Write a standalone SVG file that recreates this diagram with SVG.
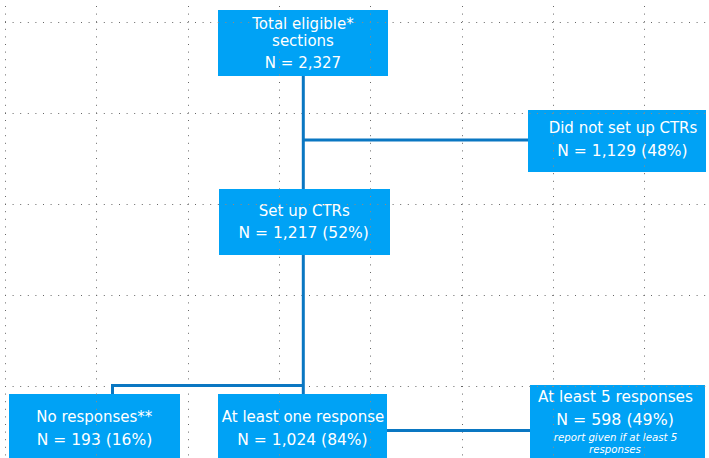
<svg xmlns="http://www.w3.org/2000/svg" width="709" height="458" viewBox="0 0 709 458">
  <style>
    .grid { stroke: #666666; stroke-width: 1; stroke-dasharray: 1 6.6; fill: none; }
    .grid-over { stroke: #d4824a; stroke-width: 1; stroke-dasharray: 1 6.6; fill: none; opacity: 0.75; }
    .box { fill: #00a2f5; }
    .lbl { font-family: "DejaVu Sans", Verdana, sans-serif; font-size: 15px; fill: #ffffff; text-anchor: middle; }
    .num { font-size: 15.5px; }
    .note { font-family: "DejaVu Sans", Verdana, sans-serif; font-size: 10.2px; font-style: italic; fill: #ffffff; text-anchor: middle; }
    .conn { stroke: #0a77c2; stroke-width: 3; fill: none; }
  </style>
  <defs>
    <!-- dotted background grid; stroke styling is inherited from each <use> -->
    <g id="gridlines">
      <line x1="5.5" y1="6" x2="5.5" y2="458"/>
      <line x1="96.5" y1="6" x2="96.5" y2="458"/>
      <line x1="188.5" y1="6" x2="188.5" y2="458"/>
      <line x1="279.5" y1="6" x2="279.5" y2="458"/>
      <line x1="370.5" y1="6" x2="370.5" y2="458"/>
      <line x1="462.5" y1="6" x2="462.5" y2="458"/>
      <line x1="553.5" y1="6" x2="553.5" y2="458"/>
      <line x1="644.5" y1="6" x2="644.5" y2="458"/>
      <line x1="5" y1="22.5" x2="709" y2="22.5"/>
      <line x1="5" y1="113.5" x2="709" y2="113.5"/>
      <line x1="5" y1="204.5" x2="709" y2="204.5"/>
      <line x1="5" y1="295.5" x2="709" y2="295.5"/>
      <line x1="5" y1="386.5" x2="709" y2="386.5"/>
    </g>
    <clipPath id="boxclip">
      <rect x="218" y="10" width="170" height="66"/>
      <rect x="528" y="110" width="178" height="62"/>
      <rect x="219" y="189" width="171" height="66"/>
      <rect x="9" y="394" width="171" height="66"/>
      <rect x="218" y="394" width="169" height="66"/>
      <rect x="530" y="385" width="175" height="75"/>
    </clipPath>
  </defs>

  <rect width="709" height="458" fill="#ffffff"/>
  <use href="#gridlines" class="grid"/>

  <g id="connectors">
    <line class="conn" x1="303.3" y1="76" x2="303.3" y2="394"/>
    <line class="conn" x1="303.3" y1="140" x2="528" y2="140"/>
    <polyline class="conn" points="303.3,385.5 112.5,385.5 112.5,394"/>
    <line class="conn" x1="387" y1="430.5" x2="530" y2="430.5"/>
  </g>

  <g id="total">
    <rect class="box" x="218" y="10" width="170" height="66"/>
    <text class="lbl" x="303" y="29">Total eligible*</text>
    <text class="lbl" x="303" y="45.5">sections</text>
    <text class="lbl" x="303" y="67.7">N = 2,327</text>
  </g>

  <g id="not-set-up">
    <rect class="box" x="528" y="110" width="178" height="62"/>
    <text class="lbl" x="623" y="133">Did not set up CTRs</text>
    <text class="lbl num" x="622.5" y="156">N = 1,129 (48%)</text>
  </g>

  <g id="set-up">
    <rect class="box" x="219" y="189" width="171" height="66"/>
    <text class="lbl" x="304.3" y="216">Set up CTRs</text>
    <text class="lbl num" x="303.7" y="238.3">N = 1,217 (52%)</text>
  </g>

  <g id="no-responses">
    <rect class="box" x="9" y="394" width="171" height="66"/>
    <text class="lbl" x="94.3" y="422.3">No responses**</text>
    <text class="lbl num" x="94.5" y="445">N = 193 (16%)</text>
  </g>

  <g id="one-response">
    <rect class="box" x="218" y="394" width="169" height="66"/>
    <text class="lbl" x="303" y="422.3">At least one response</text>
    <text class="lbl num" x="302.5" y="445">N = 1,024 (84%)</text>
  </g>

  <g id="five-responses">
    <rect class="box" x="530" y="385" width="175" height="75"/>
    <text class="lbl" x="615.5" y="402.3" style="font-size:15.3px">At least 5 responses</text>
    <text class="lbl num" x="615" y="425" style="font-size:15.8px">N = 598 (49%)</text>
    <text class="note" x="615.5" y="441.3">report given if at least 5</text>
    <text class="note" x="615" y="453.3">responses</text>
  </g>

  <!-- grid dots showing through the boxes -->
  <g clip-path="url(#boxclip)">
    <use href="#gridlines" class="grid-over"/>
  </g>
</svg>
